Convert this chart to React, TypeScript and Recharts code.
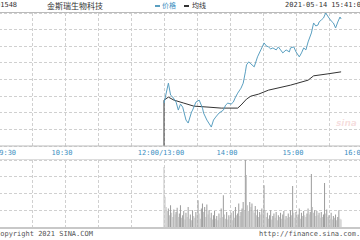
import { LineChart, Line, XAxis, YAxis, CartesianGrid, BarChart, Bar, Cell } from "recharts";

// minutes after 13:00 (afternoon session, morning had no trades)
const PRICE_T = [
  0, 4, 6, 8, 11, 13, 15, 17, 20, 22, 25, 26, 29, 32, 35, 36, 39, 43, 45, 47,
  50, 54, 56, 58, 61, 63, 65, 67, 70, 72, 74, 75, 77, 79, 82, 85, 88, 91, 93, 95,
  97, 99, 102, 104, 106, 108, 111, 114, 115, 118, 120, 123, 125, 127, 129, 131, 134, 136, 138, 140,
  141, 143, 145, 147, 150, 152, 154, 156, 158, 160, 161,
];
const PRICES = [
  28.29, 28.89, 28.53, 28.47, 28.32, 28.08, 28.26, 28.17, 27.78, 27.69, 28.02, 28.08, 28.32, 28.38, 28.14, 27.99, 27.78, 27.57, 27.78, 27.87,
  27.99, 28.08, 28.23, 28.29, 28.26, 28.32, 28.47, 28.59, 28.74, 28.89, 29.23, 29.44, 29.53, 29.47, 29.38, 29.68, 29.89, 30.1, 30.01, 29.98,
  29.92, 29.95, 29.89, 29.98, 29.89, 29.8, 29.89, 29.83, 29.95, 29.98, 29.83, 29.68, 29.8, 29.95, 29.89, 30.13, 30.4, 30.7, 30.61, 30.64,
  30.73, 30.79, 30.85, 31.0, 30.85, 30.76, 30.7, 30.55, 30.73, 30.88, 30.82,
];

const AVG_T = [0, 0, 4, 9, 18, 27, 40, 52, 67, 70, 75, 79, 86, 95, 115, 131, 136, 149, 161];
const AVG = [27.0, 28.38, 28.47, 28.38, 28.29, 28.2, 28.17, 28.14, 28.14, 28.23, 28.41, 28.5, 28.56, 28.68, 28.83, 28.98, 29.11, 29.17, 29.23];

// volume per minute from 13:00 to 15:41 (thousand shares)
const VOLUMES = [
  358, 180, 120, 95, 110, 70, 130, 85, 60, 105,
  75, 90, 115, 60, 80, 130, 55, 70, 95, 45,
  85, 60, 120, 50, 75, 40, 100, 65, 55, 90,
  70, 160, 80, 50, 110, 140, 90, 120, 60, 135,
  75, 100, 55, 85, 45, 70, 95, 50, 65, 40,
  80, 55, 110, 60, 190, 75, 50, 90, 45, 70,
  60, 85, 40, 95, 55, 120, 70, 80, 140, 65,
  90, 110, 150, 100, 460, 310, 130, 95, 150, 120,
  140, 100, 85, 125, 70, 105, 60, 90, 75, 110,
  80, 250, 95, 60, 85, 50, 70, 100, 45, 65,
  80, 55, 90, 40, 70, 60, 85, 50, 75, 95,
  45, 65, 55, 80, 60, 100, 70, 245, 85, 55,
  90, 60, 75, 110, 50, 85, 65, 95, 70, 60,
  80, 110, 75, 90, 316, 120, 85, 100, 65, 95,
  70, 85, 55, 90, 60, 75, 263, 80, 105, 60,
  70, 50, 85, 45, 65, 55, 75, 40, 60, 100,
  50, 45,
];

const GRID_MINUTES = [0, 30, 60, 90, 120, 150, 180, 210, 240, 270, 300, 330];
const TICK_MINUTES = [0, 60, 150, 210, 270, 330];
const TICK_LABELS = ["09:30", "10:30", "12:00/13:00", "14:00", "15:00", "16:00"];
const PRICE_TICKS = [27, 27.5, 28, 28.5, 29, 29.5, 30, 30.5, 31];
const VOL_TICKS = [0, 100, 200, 300, 400];

const MORNING = 150;
const BLUE = "#5a9fc0";
const GRID = "#d0d0d0";
const MONO = "'DejaVu Sans Mono', monospace";
const CJK = "'Noto Sans CJK SC', sans-serif";

const priceData = PRICE_T.map((t, i) => ({ m: MORNING + t, p: PRICES[i] }));
const avgData = AVG_T.map((t, i) => ({ m: MORNING + t, a: AVG[i] }));
const volData = VOLUMES.map((v, i) => ({ m: MORNING + i, v }));

function TimeTick({ x, y, payload }: any) {
  const i = TICK_MINUTES.indexOf(payload.value);
  if (i < 0) return <g />;
  const last = TICK_MINUTES.length - 1;
  const anchor = i === 0 ? "start" : i === last ? "end" : "middle";
  const dx = i === 0 ? -4 : i === last ? 3 : -3;
  return (
    <text x={x + dx} y={y} dy={7} textAnchor={anchor} fontSize={7} fill="#3d8fbf" fontFamily={MONO}>
      {TICK_LABELS[i]}
    </text>
  );
}

const abs = (top: number, left: number, extra: any = {}) => ({ position: "absolute" as const, top, left, ...extra });

export default function App() {
  return (
    <div style={abs(0, 0, { width: 360, height: 240, overflow: "hidden", background: "#fff" })}>
      <style>{".recharts-cartesian-grid line{shape-rendering:crispEdges}"}</style>
      {/* header */}
      <div style={abs(1, -4, { fontFamily: MONO, fontSize: 7, color: "#333", lineHeight: "9px" })}>01548</div>
      <div style={abs(0, 47, { fontFamily: CJK, fontSize: 8, color: "#333", lineHeight: "11px" })}>金斯瑞生物科技</div>
      <div style={abs(5, 155, { width: 5, height: 2, background: BLUE })} />
      <div style={abs(0, 162, { fontFamily: CJK, fontSize: 7, color: "#3d8fbf", lineHeight: "11px" })}>价格</div>
      <div style={abs(5, 184, { width: 5, height: 2, background: "#333" })} />
      <div style={abs(0, 192, { fontFamily: CJK, fontSize: 7, color: "#333", lineHeight: "11px" })}>均线</div>
      <div style={abs(1, 285, { fontFamily: MONO, fontSize: 7, color: "#333", lineHeight: "9px", whiteSpace: "nowrap" })}>
        2021-05-14 15:41:00
      </div>
      <div style={abs(12, 0, { width: 360, height: 1, background: "#bbb" })} />

      {/* price panel */}
      <div style={abs(13, -1.5)}>
        <LineChart width={363} height={147} margin={{ top: 0, right: 0, left: 0, bottom: 0 }}>
          <CartesianGrid stroke={GRID} strokeDasharray="3 2" />
          <XAxis
            dataKey="m"
            type="number"
            domain={[0, 330]}
            ticks={GRID_MINUTES}
            interval={0}
            tick={<TimeTick />}
            tickSize={0}
            tickMargin={2}
            height={14}
            axisLine={{ stroke: "#bbb" }}
            tickLine={false}
            allowDuplicatedCategory={false}
          />
          <YAxis hide type="number" domain={[27, 31]} ticks={PRICE_TICKS} interval={0} allowDataOverflow />
          <Line data={avgData} dataKey="a" stroke="#333" strokeWidth={1} dot={false} isAnimationActive={false} />
          <Line data={priceData} dataKey="p" stroke={BLUE} strokeWidth={1} dot={false} isAnimationActive={false} />
        </LineChart>
      </div>
      <div style={abs(118, 336, { fontFamily: "DejaVu Sans", fontStyle: "italic", fontWeight: 700, fontSize: 9, color: "rgba(200,60,60,0.18)" })}>
        sina
      </div>

      {/* volume panel */}
      <div style={abs(159, 0, { width: 360, height: 1, background: "#ddd" })} />
      <div style={abs(160, -1.5)}>
        <BarChart width={363} height={67} data={volData} margin={{ top: 0, right: 0, left: 0, bottom: 0 }}>
          <CartesianGrid stroke={GRID} strokeDasharray="3 2" />
          <XAxis hide dataKey="m" type="number" domain={[0, 330]} ticks={GRID_MINUTES} interval={0} />
          <YAxis hide type="number" domain={[0, 400]} ticks={VOL_TICKS} interval={0} allowDataOverflow />
          <Bar dataKey="v" barSize={1} isAnimationActive={false}>
            {volData.map((d, i) => (
              <Cell key={i} fill={i > 0 && d.v > volData[i - 1].v ? "#9b9b9b" : "#c6c6c6"} />
            ))}
          </Bar>
        </BarChart>
      </div>
      <div style={abs(227, 0, { width: 360, height: 2, background: "#c8c8c8" })} />

      {/* footer */}
      <div style={abs(230, -4, { fontFamily: MONO, fontSize: 7, color: "#555", lineHeight: "9px", whiteSpace: "nowrap" })}>
        Copyright 2021 SINA.COM
      </div>
      <div style={abs(230, 259, { fontFamily: MONO, fontSize: 7, color: "#555", lineHeight: "9px", whiteSpace: "nowrap" })}>
        http://finance.sina.com.cn
      </div>
    </div>
  );
}
